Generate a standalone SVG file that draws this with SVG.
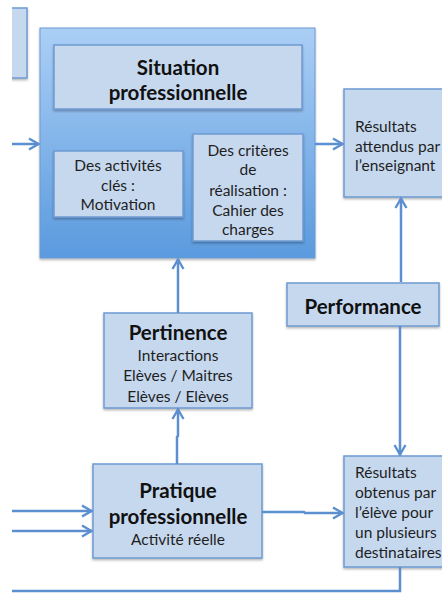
<svg xmlns="http://www.w3.org/2000/svg" width="442" height="593" viewBox="0 0 442 593">
<defs>
<linearGradient id="bg" x1="0" y1="0" x2="0" y2="1">
<stop offset="0" stop-color="#abcff6"/>
<stop offset="1" stop-color="#5a9ade"/>
</linearGradient>
<filter id="sh" x="-10%" y="-10%" width="120%" height="130%">
<feDropShadow dx="0" dy="1.5" stdDeviation="1.2" flood-color="#000" flood-opacity="0.3"/>
</filter>
<clipPath id="cl"><rect x="12" y="0" width="40" height="100"/></clipPath>
<marker id="ah" viewBox="0 0 14 14" refX="13" refY="7" markerWidth="14" markerHeight="14" markerUnits="userSpaceOnUse" orient="auto">
<path d="M3,1.5 L12.5,7 L3,12.5" fill="none" stroke="#5b8fd0" stroke-width="2.4"/>
</marker>
<style>
.box{fill:#c6d8ee;stroke:#6e9ad2;stroke-width:1.5;filter:url(#sh)}
.t{font-family:Lato,"Open Sans","Liberation Sans",sans-serif;font-size:15.5px;fill:#1e1e1e;text-anchor:middle}
.tl{font-family:Lato,"Open Sans","Liberation Sans",sans-serif;font-size:15.5px;fill:#1e1e1e}
.b{font-family:Lato,"Open Sans","Liberation Sans",sans-serif;font-size:20.5px;font-weight:bold;fill:#111;text-anchor:middle}
.c{fill:none;stroke:#5b8fd0;stroke-width:2.5}
</style>
</defs>
<g id="left-box" clip-path="url(#cl)"><rect class="box" x="4" y="8" width="23" height="70"/></g>
<g id="situation-group"><rect x="40" y="28" width="275" height="230" fill="url(#bg)" stroke="#6e9ad2" stroke-width="1" filter="url(#sh)"/></g>
<g id="situation"><rect class="box" x="54" y="45" width="248" height="64"/>
<text class="b" x="178" y="75">Situation</text><text class="b" x="178" y="100">professionnelle</text></g>
<g id="activites"><rect class="box" x="54" y="151" width="129" height="66"/>
<text class="t" x="118" y="171">Des activités</text><text class="t" x="118" y="191">clés :</text><text class="t" x="118" y="210">Motivation</text></g>
<g id="criteres"><rect class="box" x="193" y="134" width="110" height="107"/>
<text class="t" x="248" y="156">Des critères</text><text class="t" x="248" y="175">de</text><text class="t" x="248" y="196">réalisation :</text><text class="t" x="248" y="216">Cahier des</text><text class="t" x="248" y="235">charges</text></g>
<g id="attendus"><rect class="box" x="344" y="89" width="104" height="108"/>
<text class="tl" x="355" y="132">Résultats</text><text class="tl" x="355" y="152">attendus par</text><text class="tl" x="355" y="171">l’enseignant</text></g>
<g id="performance"><rect class="box" x="287" y="283" width="152" height="43"/>
<text class="b" x="363" y="314">Performance</text></g>
<g id="pertinence"><rect class="box" x="104" y="313" width="148" height="95"/>
<text class="b" x="178" y="340">Pertinence</text><text class="t" x="178" y="361">Interactions</text><text class="t" x="178" y="381">Elèves / Maitres</text><text class="t" x="178" y="402">Elèves / Elèves</text></g>
<g id="pratique"><rect class="box" x="93" y="464" width="169" height="94"/>
<text class="b" x="178" y="498">Pratique</text><text class="b" x="178" y="524">professionnelle</text><text class="t" x="178" y="545">Activité réelle</text></g>
<g id="obtenus"><rect class="box" x="344" y="456" width="104" height="111"/>
<text class="tl" x="355" y="478">Résultats</text><text class="tl" x="355" y="498">obtenus par</text><text class="tl" x="355" y="518">l’élève pour</text><text class="tl" x="355" y="538">un plusieurs</text><text class="tl" x="355" y="558">destinataires</text></g>
<g id="connectors">
<path class="c" d="M12,144 H39" marker-end="url(#ah)"/>
<path class="c" d="M315,144 H343" marker-end="url(#ah)"/>
<path class="c" d="M401,282 V198" marker-end="url(#ah)"/>
<path class="c" d="M400,326 V455" marker-end="url(#ah)"/>
<path class="c" d="M178,313 V259" marker-end="url(#ah)"/>
<path class="c" d="M177,464 V437 L178,436 V409" marker-end="url(#ah)"/>
<path class="c" d="M12,511 H92" marker-end="url(#ah)"/>
<path class="c" d="M12,531 H92" marker-end="url(#ah)"/>
<path class="c" d="M262,512 H304 L305,513 H343" marker-end="url(#ah)"/>
<path class="c" d="M400,567 V591 H12"/>
</g>
</svg>
